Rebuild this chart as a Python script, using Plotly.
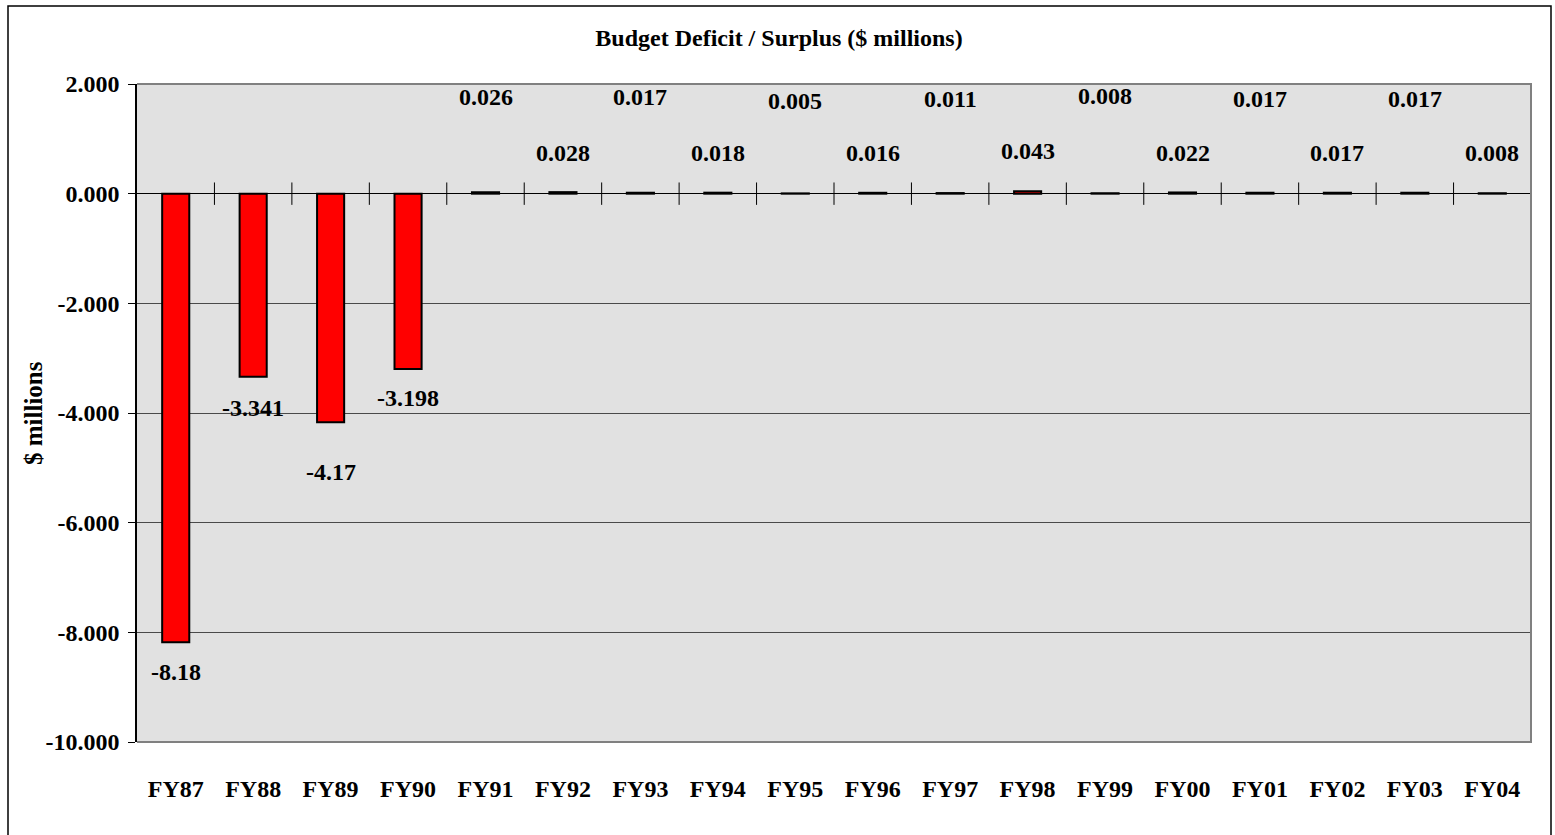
import plotly.graph_objects as go

categories = ["FY87", "FY88", "FY89", "FY90", "FY91", "FY92", "FY93", "FY94", "FY95",
              "FY96", "FY97", "FY98", "FY99", "FY00", "FY01", "FY02", "FY03", "FY04"]
values = [-8.18, -3.341, -4.17, -3.198, 0.026, 0.028, 0.017, 0.018, 0.005,
          0.016, 0.011, 0.043, 0.008, 0.022, 0.017, 0.017, 0.017, 0.008]
# vertical pixel offsets of the data labels from the bar ends
label_shift_px = [-30, -31, -50, -29, 95, 39, 96, 40, 92,
                  40, 94, 40, 97, 39, 94, 40, 94, 40]
y_ticks = [2, 0, -2, -4, -6, -8, -10]

W, H = 1555, 835
L, R, T, B = 137, 24, 84, 93
pw, ph = W - L - R, H - T - B

FONT = "Liberation Serif"
x_idx = list(range(len(categories)))

fig = go.Figure()
fig.add_trace(go.Bar(
    x=x_idx, y=values, width=0.35,
    marker=dict(color="#FF0000", line=dict(color="black", width=2)),
    hoverinfo="skip", showlegend=False,
))
# category separator tick marks along the zero line
fig.add_trace(go.Scatter(
    x=[i + 0.5 for i in x_idx], y=[0] * len(x_idx), mode="markers",
    marker=dict(symbol="line-ns", size=16, line=dict(color="black", width=1)),
    hoverinfo="skip", showlegend=False, cliponaxis=False,
))

for i, (v, s) in enumerate(zip(values, label_shift_px)):
    fig.add_annotation(x=i, y=v, text=f"{v:g}", showarrow=False, yshift=s,
                       yanchor="middle", xanchor="center",
                       font=dict(family=FONT, size=24, color="black", weight="bold"))

fig.add_annotation(xref="paper", yref="paper", x=(33 - L) / pw, y=0.5,
                   text="$ millions", textangle=-90, showarrow=False,
                   xanchor="center", yanchor="middle",
                   font=dict(family=FONT, size=25, color="black", weight="bold"))

# plot area border (top, right, bottom) in gray
fig.add_shape(type="path", xref="paper", yref="paper",
              path="M 0,1 L 1,1 L 1,0 L 0,0", line=dict(color="#808080", width=2),
              layer="above")
# outer chart border
fig.add_shape(type="rect", xref="paper", yref="paper",
              x0=(8 - L) / pw, x1=(1551 - L) / pw,
              y0=-(H + 3 - (H - B)) / ph, y1=(H - B - 6) / ph,
              line=dict(color="black", width=1.5), layer="above")

fig.update_layout(
    width=W, height=H,
    margin=dict(l=L, r=R, t=T, b=B),
    paper_bgcolor="white", plot_bgcolor="#E1E1E1",
    title=dict(text="Budget Deficit / Surplus ($ millions)", x=779 / W, xanchor="center",
               y=1 - 38 / H, yanchor="middle", yref="container",
               font=dict(family=FONT, size=24, color="black", weight="bold")),
    bargap=0.65,
)
fig.update_xaxes(
    range=[-0.5, len(categories) - 0.5], tickvals=x_idx, ticktext=categories,
    showgrid=False, zeroline=False, showline=False, ticks="",
    ticklabelstandoff=30,
    tickfont=dict(family=FONT, size=24, color="black", weight="bold"),
)
fig.update_yaxes(
    range=[-10, 2], tickvals=y_ticks, ticktext=[f"{v:.3f}" for v in y_ticks],
    showgrid=True, gridcolor="#4a4a4a", gridwidth=1,
    zeroline=True, zerolinecolor="black", zerolinewidth=1,
    showline=True, linecolor="black", linewidth=1.5,
    ticks="outside", ticklen=7, tickcolor="black", tickwidth=1,
    ticklabelstandoff=4,
    tickfont=dict(family=FONT, size=24, color="black", weight="bold"),
)

fig.write_html("out.html")
